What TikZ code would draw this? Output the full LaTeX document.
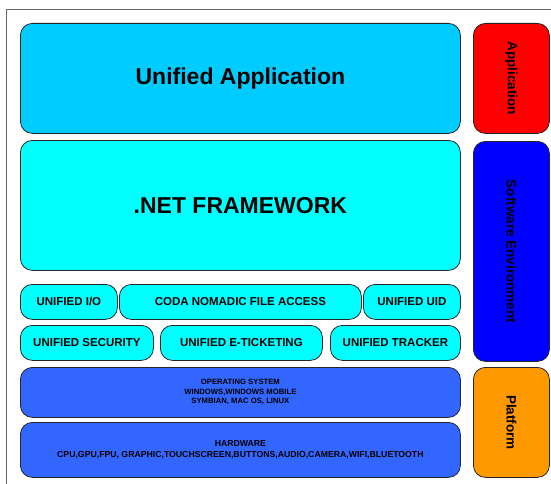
\documentclass[tikz,border=0pt]{standalone}
\usepackage{fontspec}
\setmainfont{Liberation Sans}
\usepackage{tikz}

\definecolor{appblue}{RGB}{0,204,255}
\definecolor{netcyan}{RGB}{0,255,255}
\definecolor{osblue}{RGB}{51,102,255}
\definecolor{envblue}{RGB}{0,0,255}
\definecolor{appred}{RGB}{255,0,0}
\definecolor{platorange}{RGB}{255,153,0}

\begin{document}
\begin{tikzpicture}[x=1pt,y=-1pt,
    layer/.style={draw=black!85, line width=0.8pt, rounded corners=12pt,
      anchor=north west, inner sep=0pt, align=center, font=\bfseries},
    module/.style={layer, fill=netcyan, minimum height=35pt, font=\bfseries\fontsize{11.5}{13}\selectfont},
    side/.style={layer, minimum width=76pt, font=\bfseries\fontsize{13.5}{15}\selectfont}]
  \useasboundingbox (0,0) rectangle (551,484);
  \draw[black!60, line width=0.8pt] (6,560) -- (6,9) -- (560,9);

  % main stack
  \node[layer, fill=appblue, minimum width=440pt, minimum height=110pt,
        font=\bfseries\fontsize{23}{26}\selectfont] (app) at (20,23) {Unified Application};
  \node[layer, fill=netcyan, minimum width=440pt, minimum height=130pt,
        font=\bfseries\fontsize{23}{26}\selectfont] (net) at (20,140) {.NET FRAMEWORK};

  \node[module, minimum width=97pt] (io) at (20,284) {UNIFIED I/O};
  \node[module, minimum width=242pt] (coda) at (119,284) {CODA NOMADIC FILE ACCESS};
  \node[module, minimum width=97pt] (uid) at (363,284) {UNIFIED UID};

  \node[module, minimum width=133pt] (sec) at (20,325) {UNIFIED SECURITY};
  \node[module, minimum width=162pt] (tick) at (160,325) {UNIFIED E-TICKETING};
  \node[module, minimum width=130pt] (track) at (330,325) {UNIFIED TRACKER};

  \node[layer, fill=osblue, minimum width=440pt, minimum height=50pt,
        font=\bfseries\fontsize{7.7}{9.5}\selectfont] (os) at (20,367)
    {OPERATING SYSTEM\\WINDOWS,WINDOWS MOBILE\\SYMBIAN, MAC OS, LINUX};
  \node[layer, fill=osblue, minimum width=440pt, minimum height=55pt,
        font=\bfseries\fontsize{8.7}{11}\selectfont] (hw) at (20,422)
    {HARDWARE\\CPU,GPU,FPU, GRAPHIC,TOUCHSCREEN,BUTTONS,AUDIO,CAMERA,WIFI,BLUETOOTH};

  % side labels
  \node[side, fill=appred, minimum height=110pt] (lapp) at (473,23) {};
  \node[rotate=-90, font=\bfseries\fontsize{13.5}{15}\selectfont] at (lapp.center) {Application};
  \node[side, fill=envblue, minimum height=220pt] (lenv) at (473,141) {};
  \node[rotate=-90, font=\bfseries\fontsize{13.5}{15}\selectfont] at (lenv.center) {Software Environment};
  \node[side, fill=platorange, minimum height=110pt] (lplat) at (473,367) {};
  \node[rotate=-90, font=\bfseries\fontsize{13.5}{15}\selectfont] at (lplat.center) {Platform};
\end{tikzpicture}
\end{document}
